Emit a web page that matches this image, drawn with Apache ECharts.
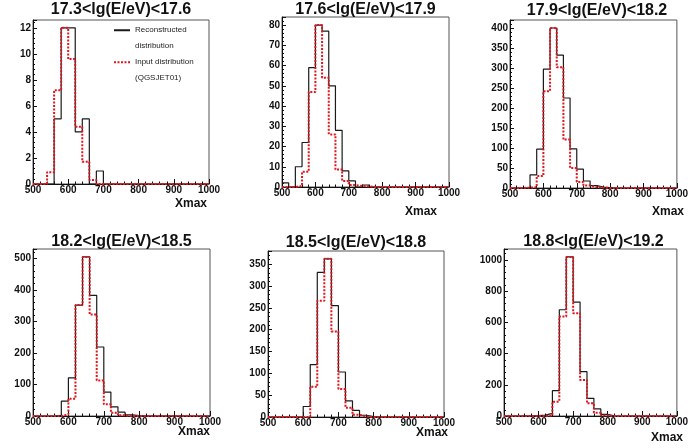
<!DOCTYPE html>
<html><head><meta charset="utf-8">
<script src="https://cdn.jsdelivr.net/npm/echarts@6/dist/echarts.min.js"></script>
<style>html,body{margin:0;padding:0;background:#fff}#c{width:691px;height:448px}</style>
</head><body><div id="c"></div>
<script>
// bin lower edges (width 20 g/cm2)
const binLow = [500,520,540,560,580,600,620,640,660,680,700,720,740,760,780,800,820,840,860,880,900,920,940,960,980];
const xMin = 500, xMax = 1000, xStep = 100;
const titles = ['17.3<lg(E/eV)<17.6','17.6<lg(E/eV)<17.9','17.9<lg(E/eV)<18.2','18.2<lg(E/eV)<18.5','18.5<lg(E/eV)<18.8','18.8<lg(E/eV)<19.2'];
const xAxisTitle = 'Xmax';
const yIntervals = [2, 10, 50, 100, 50, 200];
const yMaxes = [12.6, 84, 420, 530, 380, 1069];
const seriesNames = ['Reconstructed distribution', 'Input distribution (QGSJET01)'];
const legendLabels = ['Reconstructed\ndistribution', 'Input distribution\n(QGSJET01)'];

const recon1 = [0,0,0,5,12,12,4,5,0,1,0,0,0,0,0,0,0,0,0,0,0,0,0,0,0];
const input1 = [0,0,0.9,7.2,12,9.6,4.4,1.7,0.3,0,0,0,0,0,0,0,0,0,0,0,0,0,0,0,0];
const recon2 = [2,0,10,22,59,80,77,50,28,8,3,0,1,0,0,0,0,0,0,0,0,0,0,0,0];
const input2 = [0,0,0.5,7.5,47,80,54,26,8.6,3,1,0.5,0.3,0,0,0,0,0,0,0,0,0,0,0,0];
const recon3 = [0,0,0,33,97,297,400,332,225,98,47,17.5,6,2,1,0,0,0,0,0,0,0,0,0,0];
const input3 = [0,0,1,2,30,242,400,302,121,50,15,6,2,1,0,0,0,0,0,0,0,0,0,0,0];
const recon4 = [0,0,0,2,47,121,352,505,383,219,76,29,12,4,1,0,0,0,0,0,0,0,0,0,0];
const input4 = [0,0,0,0,5,55,352,505,322,113,37,10,2,0,0,0,0,0,0,0,0,0,0,0,0];
const recon5 = [0,0,0,0,0,24,120,331,362,255,103,37,15,4,1,0,0,0,0,0,0,0,0,0,0];
const input5 = [0,0,0,0,0,0,69,266,362,196,64,21,5,1,0,0,0,0,0,0,0,0,0,0,0];
const recon6 = [0,0,0,0,2,6,17,162,680,1018,729,284,113,45,10,0,0,0,0,0,0,0,0,0,0];
const input6 = [0,0,0,0,0,0,3,92,637,1018,658,231,81,21,3,0,0,0,0,0,0,0,0,0,0];

const recons = [recon1, recon2, recon3, recon4, recon5, recon6];
const inputs = [input1, input2, input3, input4, input5, input6];

// layout
const grids = [
  {left: 33, top: 20, width: 176, height: 164},
  {left: 282, top: 17, width: 167, height: 170},
  {left: 510, top: 20, width: 174, height: 168},
  {left: 33, top: 249, width: 177, height: 167},
  {left: 268, top: 251, width: 176, height: 166},
  {left: 504, top: 249, width: 179, height: 167}
];
const titleTops = [2, 2, 3, 234, 235, 234];
const xNameRight = [207, 437, 684, 210, 448, 683];
const xNameTop = [197, 205, 205, 425, 426, 431];

const FONT = '"Liberation Sans", Arial, Helvetica, sans-serif';
const RED = '#e0161e';
const BLACK = '#1a1a1a';

function stepData(vals) {
  const d = binLow.map((x, i) => [x, vals[i]]);
  d.push([xMax, vals[vals.length - 1]]);
  return d;
}

const titleComps = titles.map((t, i) => ({
  text: t,
  left: grids[i].left + grids[i].width / 2,
  top: titleTops[i],
  textAlign: 'center',
  padding: 0,
  textStyle: {fontFamily: FONT, fontSize: 16, fontWeight: 'bold', color: '#111'}
})).concat(grids.map((g, i) => ({
  text: xAxisTitle,
  left: xNameRight[i],
  top: xNameTop[i],
  textAlign: 'right',
  padding: 0,
  textStyle: {fontFamily: FONT, fontSize: 12, fontWeight: 'bold', color: '#111', lineHeight: 14}
})));

const option = {
  animation: false,
  backgroundColor: '#fff',
  textStyle: {fontFamily: FONT},
  title: titleComps,
  legend: {
    left: 113, top: 7, orient: 'vertical', padding: 0,
    itemWidth: 16, itemHeight: 6, itemGap: -14.5,
    data: seriesNames,
    itemStyle: {opacity: 0, borderWidth: 0},
    formatter: n => '\n' + legendLabels[seriesNames.indexOf(n)],
    textStyle: {fontFamily: FONT, fontSize: 8, color: '#222', lineHeight: 15.5},
    selectedMode: false
  },
  grid: grids.map(g => Object.assign({show: true, borderColor: '#555', borderWidth: 1, backgroundColor: '#fff'}, g)),
  xAxis: grids.map((g, i) => ({
    type: 'value', gridIndex: i, min: xMin, max: xMax, interval: xStep,
    axisLine: {show: true, lineStyle: {color: '#111', width: 1}},
    axisTick: {show: true, inside: true, length: 5, lineStyle: {color: '#111'}},
    minorTick: {show: true, splitNumber: 5, length: 2.5, lineStyle: {color: '#111'}},
    splitLine: {show: false},
    axisLabel: {fontFamily: FONT, fontSize: 10, fontWeight: 'bold', color: '#111', margin: 1, formatter: v => String(v)}
  })),
  yAxis: grids.map((g, i) => ({
    type: 'value', gridIndex: i, min: 0, max: yMaxes[i], interval: yIntervals[i],
    axisLine: {show: true, lineStyle: {color: '#111', width: 1}},
    axisTick: {show: true, inside: true, length: 4, lineStyle: {color: '#111'}},
    minorTick: {show: true, splitNumber: 5, length: 2, lineStyle: {color: '#111'}},
    splitLine: {show: false},
    axisLabel: {fontFamily: FONT, fontSize: 10, fontWeight: 'bold', color: '#111', margin: 2, showMaxLabel: false, formatter: v => String(v)}
  })),
  series: []
};

grids.forEach((g, i) => {
  option.series.push({
    name: seriesNames[0], type: 'line', xAxisIndex: i, yAxisIndex: i,
    step: 'end', symbol: 'none', data: stepData(recons[i]),
    color: BLACK,
    lineStyle: {color: BLACK, width: 1.2}, z: 3
  });
  option.series.push({
    name: seriesNames[1], type: 'line', xAxisIndex: i, yAxisIndex: i,
    step: 'end', symbol: 'none', data: stepData(inputs[i]),
    color: RED,
    lineStyle: {color: RED, width: 2, type: [2, 1.5]}, z: 4
  });
});

const chart = echarts.init(document.getElementById('c'), null, {renderer: 'canvas'});
chart.setOption(option);
</script>
</body></html>
